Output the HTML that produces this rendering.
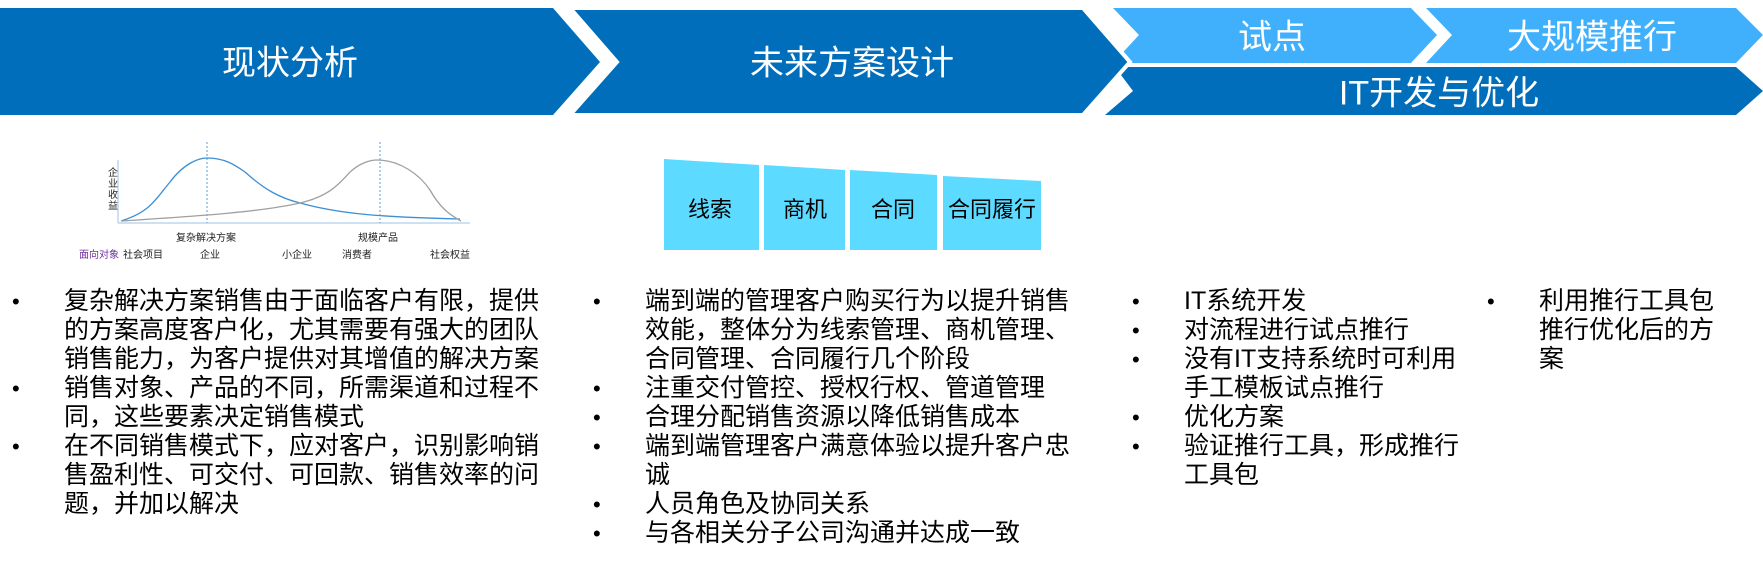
<!DOCTYPE html>
<html><head><meta charset="utf-8"><style>
html,body{margin:0;padding:0;background:#fff;}
body{width:1763px;height:569px;position:relative;overflow:hidden;font-family:"Liberation Sans","Noto Sans CJK SC",sans-serif;}
.t{position:absolute;color:#fff;white-space:nowrap;transform:translate(-50%,-50%);}
ul{position:absolute;margin:0;padding:0;list-style:none;font-size:25px;line-height:29px;color:#000;}
ul li{position:relative;padding-left:52px;}
ul li:before{content:"•";position:absolute;left:0;top:0;font-size:22px;}
.f{position:absolute;font-size:22px;color:#000;transform:translate(-50%,-50%);white-space:nowrap;}
.s{position:absolute;font-size:10px;color:#222;white-space:nowrap;}
</style></head><body>
<svg width="1763" height="569" style="position:absolute;left:0;top:0">
<polygon points="1113,8 1411,8 1437,35 1411,63 1113,63 1139,35" fill="#41B0FC"/>
<polygon points="1426,8 1736,8 1763,35 1736,63 1426,63 1452,35" fill="#41B0FC"/>
<polygon points="1115,67 1736,67 1763,91 1736,115 1105,115 1133,91" fill="#006EBA"/>
<polygon points="570,8 1083,8 1130,62 1083,115 570,115 617,62" fill="#006EBA" stroke="#fff" stroke-width="4"/>
<polygon points="0,8 553,8 600,62 553,115 0,115" fill="#006EBA"/>
<polygon points="664,159 759,165 759,250 664,250" fill="#5CDAFF"/>
<polygon points="764,165 845,170 845,250 764,250" fill="#5CDAFF"/>
<polygon points="850,170 937,175 937,250 850,250" fill="#5CDAFF"/>
<polygon points="943,176 1041,181 1041,250 943,250" fill="#5CDAFF"/>
<line x1="118" y1="223" x2="470" y2="223" stroke="#9dc3e6" stroke-width="1"/>
<line x1="118" y1="223" x2="118" y2="160" stroke="#9dc3e6" stroke-width="1"/>
<line x1="207" y1="142" x2="207" y2="223" stroke="#5b9bd5" stroke-width="1" stroke-dasharray="2,2"/>
<line x1="380" y1="142" x2="380" y2="223" stroke="#5b9bd5" stroke-width="1" stroke-dasharray="2,2"/>
<path d="M121,221 C150,212 155,200 170,182 C185,162 200,158 207,158 C225,158 235,165 245,172 C265,190 280,198 300,203 C340,214 380,217 460,219" fill="none" stroke="#3d8fd4" stroke-width="1.3"/>
<path d="M121,221 C200,216 260,212 300,203 C330,196 340,183 350,172 C360,163 370,160 377,160 C400,160 420,175 430,190 C440,208 450,215 461,221" fill="none" stroke="#a0a0a0" stroke-width="1.3"/>
</svg>
<div class="t" style="left:290px;top:60px;font-size:34px">现状分析</div>
<div class="t" style="left:852px;top:60px;font-size:34px">未来方案设计</div>
<div class="t" style="left:1272px;top:34px;font-size:34px">试点</div>
<div class="t" style="left:1592px;top:34px;font-size:34px">大规模推行</div>
<div class="t" style="left:1439px;top:90px;font-size:34px">IT开发与优化</div>
<div class="f" style="left:710px;top:208px">线索</div>
<div class="f" style="left:805px;top:208px">商机</div>
<div class="f" style="left:893px;top:208px">合同</div>
<div class="f" style="left:992px;top:208px">合同履行</div>
<div class="s" style="left:108px;top:168px;width:10px;line-height:11px;white-space:normal">企业收益</div>
<div class="s" style="left:176px;top:229px">复杂解决方案</div>
<div class="s" style="left:358px;top:229px">规模产品</div>
<div class="s" style="left:79px;top:246px;color:#7030A0">面向对象</div>
<div class="s" style="left:123px;top:246px">社会项目</div>
<div class="s" style="left:200px;top:246px">企业</div>
<div class="s" style="left:282px;top:246px">小企业</div>
<div class="s" style="left:342px;top:246px">消费者</div>
<div class="s" style="left:430px;top:246px">社会权益</div>
<ul style="left:12px;top:287px;width:540px">
<li>复杂解决方案销售由于面临客户有限，提供的方案高度客户化，尤其需要有强大的团队销售能力，为客户提供对其增值的解决方案</li>
<li>销售对象、产品的不同，所需渠道和过程不同，这些要素决定销售模式</li>
<li>在不同销售模式下，应对客户，识别影响销售盈利性、可交付、可回款、销售效率的问题，并加以解决</li>
</ul>
<ul style="left:593px;top:287px;width:480px">
<li>端到端的管理客户购买行为以提升销售效能，整体分为线索管理、商机管理、合同管理、合同履行几个阶段</li>
<li>注重交付管控、授权行权、管道管理</li>
<li>合理分配销售资源以降低销售成本</li>
<li>端到端管理客户满意体验以提升客户忠诚</li>
<li>人员角色及协同关系</li>
<li>与各相关分子公司沟通并达成一致</li>
</ul>
<ul style="left:1132px;top:287px;width:340px">
<li>IT系统开发</li>
<li>对流程进行试点推行</li>
<li>没有IT支持系统时可利用手工模板试点推行</li>
<li>优化方案</li>
<li>验证推行工具，形成推行工具包</li>
</ul>
<ul style="left:1487px;top:287px;width:240px">
<li>利用推行工具包推行优化后的方案</li>
</ul>
</body></html>
